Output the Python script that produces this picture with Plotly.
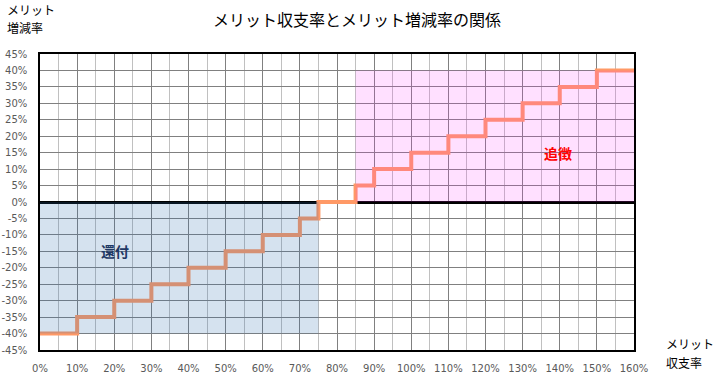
import plotly.graph_objects as go

# data (percent)
step_x = [0, 10, 20, 30, 40, 50, 60, 70, 75, 85, 90, 100, 110, 120, 130, 140, 150, 160]
step_y = [-40, -35, -30, -25, -20, -15, -10, -5, 0, 5, 10, 15, 20, 25, 30, 35, 40, 40]
refund_region = dict(x0=0, x1=75, y0=-40, y1=0)
surcharge_region = dict(x0=85, x1=160, y0=0, y1=40)
x_ticks = list(range(0, 161, 10))
y_ticks = list(range(-45, 46, 5))
x_ticktext = [f"{v}%" for v in x_ticks]
y_ticktext = [f"{v}%" for v in y_ticks]

W, H = 717, 380
PL, PR, PT, PB = 40, 634, 54, 350  # plot area in screen pixels
L, T, R, B = PL, PT, W - PR, H - PB
PW, PH = PR - PL, PB - PT

def px(xs):
    return (xs - PL) / PW

def py(ys):
    return (PB - ys) / PH

fig = go.Figure()
fig.add_trace(go.Scatter(
    x=step_x, y=step_y, mode="lines", line_shape="hv",
    line=dict(color="#FF9966", width=4), showlegend=False, hoverinfo="skip"))

fig.add_shape(type="rect", xref="x", yref="y", layer="above", line_width=0,
              fillcolor="rgba(45,110,175,0.2)", **refund_region)
fig.add_shape(type="rect", xref="x", yref="y", layer="above", line_width=0,
              fillcolor="rgba(255,48,255,0.15)", **surcharge_region)

fig.add_annotation(x=20.2, y=-15, text="<b>還付</b>", showarrow=False,
                   font=dict(size=14, color="#1F3864", family="Noto Sans CJK JP"))
fig.add_annotation(x=139.5, y=15, text="<b>追徴</b>", showarrow=False,
                   font=dict(size=14, color="#FF0000", family="Noto Sans CJK JP"))

for txt, xs, ys in [("メリット", 5, 9), ("増減率", 5, 28), ("メリット", 664, 343), ("収支率", 664, 362)]:
    fig.add_annotation(xref="paper", yref="paper", x=px(xs), y=py(ys), xanchor="left", yanchor="middle",
                       text=txt, showarrow=False,
                       font=dict(size=12, color="#000000", family="Noto Sans CJK JP"))

fig.add_annotation(xref="paper", yref="paper", x=px(357), y=py(19), xanchor="center", yanchor="middle",
                   text="メリット収支率とメリット増減率の関係", showarrow=False,
                   font=dict(size=16, color="#000000", family="Noto Sans CJK JP"))

fig.update_layout(
    width=W, height=H,
    margin=dict(l=L, r=R, t=T, b=B, autoexpand=False),
    paper_bgcolor="white", plot_bgcolor="white",
    font=dict(family="DejaVu Sans", size=10, color="#595959"),
)
fig.update_xaxes(range=[0, 160], tickvals=x_ticks, ticktext=x_ticktext, automargin=False,
                 showgrid=True, gridcolor="#808080", gridwidth=1,
                 minor=dict(dtick=5, showgrid=True, gridcolor="#C0C0C0", gridwidth=1),
                 showline=True, linecolor="black", linewidth=1.5, mirror=True,
                 zeroline=False, ticks="", ticklabelstandoff=8,
                 tickfont=dict(size=10, color="#595959"))
fig.update_yaxes(range=[-45, 45], tickvals=y_ticks, ticktext=y_ticktext, automargin=False,
                 showgrid=True, gridcolor="#808080", gridwidth=1,
                 showline=True, linecolor="black", linewidth=1.5, mirror=True,
                 zeroline=True, zerolinecolor="black", zerolinewidth=2.5,
                 ticks="", ticklabelstandoff=9,
                 tickfont=dict(size=10, color="#595959"))

fig.write_html("out.html", config={"displayModeBar": False},
               post_script="document.body.style.margin='0';")
